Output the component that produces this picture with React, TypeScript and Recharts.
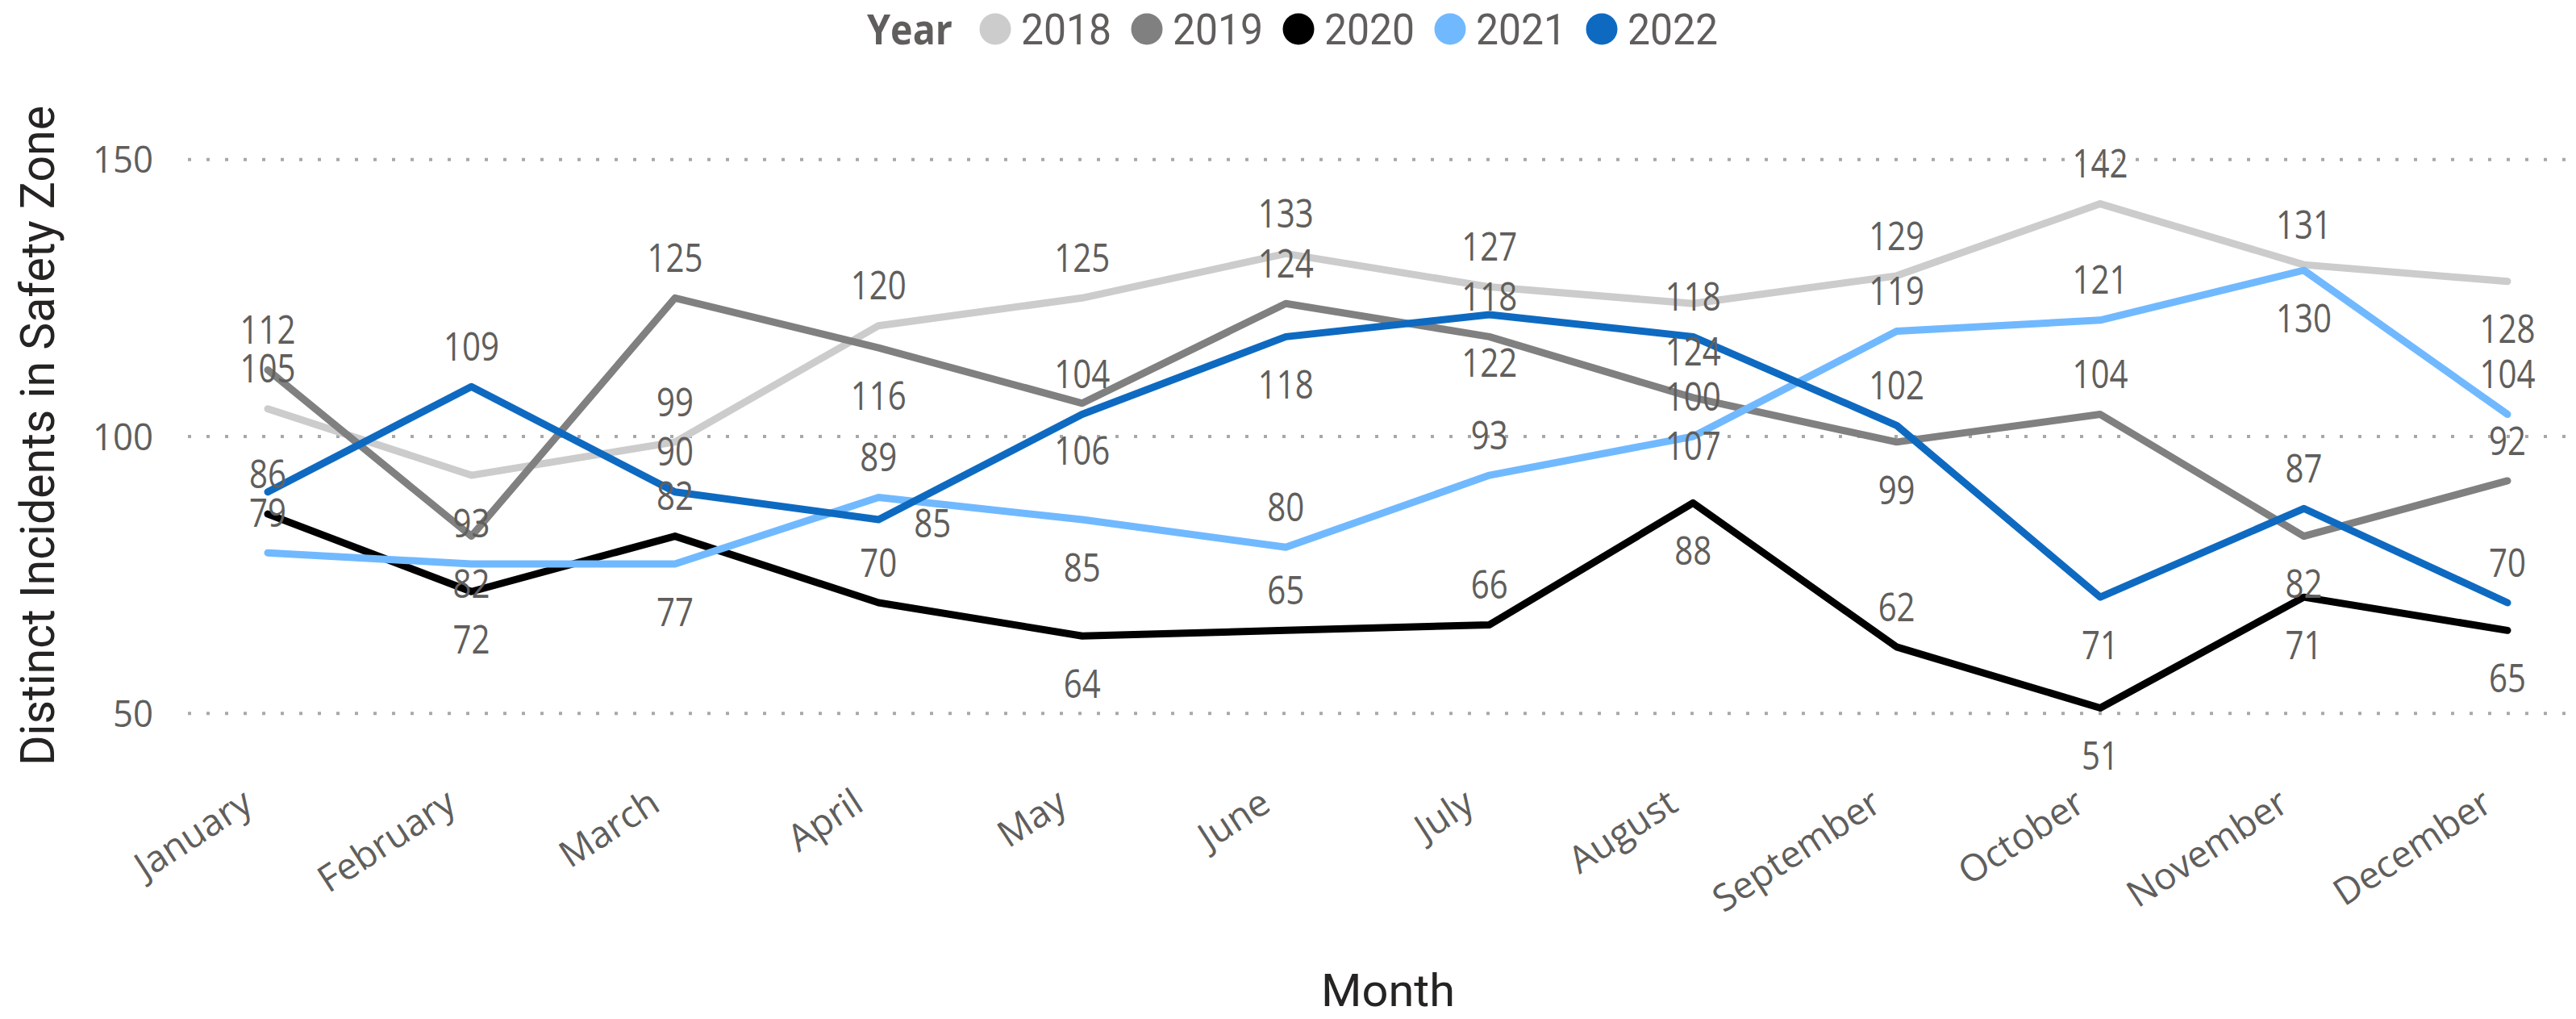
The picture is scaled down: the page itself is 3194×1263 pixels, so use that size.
import { CartesianGrid, LabelList, Line, LineChart, XAxis, YAxis } from 'recharts'

const months = [
  'January', 'February', 'March', 'April', 'May', 'June',
  'July', 'August', 'September', 'October', 'November', 'December',
]
const years = ['2018', '2019', '2020', '2021', '2022']

const v2018 = [105, 93, 99, 120, 125, 133, 127, 124, 129, 142, 131, 128]
const v2019 = [112, 82, 125, 116, 106, 124, 118, 107, 99, 104, 82, 92]
const v2020 = [86, 72, 82, 70, 64, 65, 66, 88, 62, 51, 71, 65]
const v2021 = [79, 77, 77, 89, 85, 80, 93, 100, 119, 121, 130, 104]
const v2022 = [90, 109, 90, 85, 104, 118, 122, 118, 102, 71, 87, 70]

const yTicks = [50, 100, 150]

const series: Record<string, number[]> = {
  '2018': v2018, '2019': v2019, '2020': v2020, '2021': v2021, '2022': v2022,
}

const colors: Record<string, string> = {
  '2018': '#CCCCCC',
  '2019': '#808080',
  '2020': '#000000',
  '2021': '#71B9FF',
  '2022': '#0E6AC1',
}

// where power bi put each data label: a = above, b = below, r = right, - = hidden
const labelSides: Record<string, string> = {
  '2018': 'abaaaaabaaab',
  '2019': 'ababbaabbaba',
  '2020': 'abaabaababbb',
  '2021': 'a-babaaaaaba',
  '2022': '-aarabbaabaa',
}

const rows = months.map((m, i) => {
  const row: Record<string, string | number> = { month: m }
  years.forEach((y) => (row[y] = series[y][i]))
  return row
})

const GREY = '#605E5C'
const DARK = '#252423'
const SEGOE = '"Open Sans", "Noto Sans", sans-serif'
const DIN = 'Roboto, "Noto Sans", sans-serif'

function MonthTick(props: any) {
  const { x, y, payload } = props
  const ax = x - 16
  const ay = y + 50
  return (
    <text
      x={ax}
      y={ay}
      transform={`rotate(-33, ${ax}, ${ay})`}
      textAnchor="end"
      fontFamily={SEGOE}
      fontSize={46}
      fill={GREY}
    >
      {payload.value}
    </text>
  )
}

function ValueTick(props: any) {
  const { x, y, payload } = props
  const s = String(payload.value)
  return (
    <text
      x={x}
      y={y}
      dy="0.36em"
      textAnchor="end"
      fontFamily={SEGOE}
      fontSize={46}
      fill={GREY}
      textLength={s.length * 25}
      lengthAdjust="spacingAndGlyphs"
    >
      {s}
    </text>
  )
}

function makeLabel(year: string) {
  return (props: any) => {
    const { x, y, value, index } = props
    const side = labelSides[year][index]
    if (side === '-' || x == null || y == null) return null
    let cx = x
    let cy = y - 50
    if (side === 'b') cy = y + 59
    if (side === 'r') {
      cx = x + 67
      cy = y + 4
    }
    const s = String(value)
    return (
      <text
        x={cx}
        y={cy}
        dy="0.36em"
        textAnchor="middle"
        fontFamily={SEGOE}
        fontSize={49}
        fill={GREY}
        textLength={s.length * 23}
        lengthAdjust="spacingAndGlyphs"
      >
        {s}
      </text>
    )
  }
}

function Legend() {
  let cx = 1075
  const items: JSX.Element[] = []
  items.push(
    <text key="title" x={cx} y={55} fontFamily={SEGOE} fontWeight={700} fontSize={52} fill={GREY}
      textLength={106} lengthAdjust="spacingAndGlyphs">
      Year
    </text>,
  )
  cx += 106 + 53
  years.forEach((y) => {
    items.push(<circle key={'c' + y} cx={cx} cy={36} r={19.5} fill={colors[y]} />)
    items.push(
      <text key={'t' + y} x={cx + 32} y={55} fontFamily={DIN} fontSize={53} fill={GREY}
        textLength={112} lengthAdjust="spacingAndGlyphs">
        {y}
      </text>,
    )
    cx += 32 + 112 + 44
  })
  return <g>{items}</g>
}

export default function App() {
  return (
    <div style={{ position: 'absolute', left: 0, top: 0, width: 3194, height: 1263, background: '#ffffff' }}>
      <LineChart
        width={3194}
        height={1263}
        data={rows}
        margin={{ top: 129, right: 7, bottom: 160, left: 0 }}
      >
        <CartesianGrid
          vertical={false}
          horizontalValues={yTicks}
          stroke="#A8A8A8"
          strokeWidth={4}
          strokeDasharray="4 19"
        />
        <XAxis
          dataKey="month"
          padding={{ left: 99, right: 78 }}
          axisLine={false}
          tickLine={false}
          tickSize={0}
          tickMargin={0}
          interval={0}
          height={150}
          tick={<MonthTick />}
        />
        <YAxis
          domain={[40, 160]}
          ticks={yTicks}
          axisLine={false}
          tickLine={false}
          tickSize={0}
          tickMargin={43}
          width={233}
          tick={<ValueTick />}
        />
        {years.map((y) => (
          <Line
            key={y}
            type="linear"
            dataKey={y}
            stroke={colors[y]}
            strokeWidth={9}
            strokeLinecap="round"
            strokeLinejoin="round"
            dot={false}
            activeDot={false}
            isAnimationActive={false}
          >
            <LabelList dataKey={y} content={makeLabel(y)} />
          </Line>
        ))}
      </LineChart>
      <svg
        width={3194}
        height={1263}
        style={{ position: 'absolute', left: 0, top: 0, pointerEvents: 'none' }}
      >
        <Legend />
        <text
          transform="translate(67, 540) rotate(-90)"
          textAnchor="middle"
          fontFamily={DIN}
          fontSize={59}
          fill={DARK}
          textLength={818}
          lengthAdjust="spacingAndGlyphs"
        >
          Distinct Incidents in Safety Zone
        </text>
        <text
          x={1721}
          y={1247}
          textAnchor="middle"
          fontFamily={DIN}
          fontSize={56}
          fill={DARK}
          textLength={166}
          lengthAdjust="spacingAndGlyphs"
        >
          Month
        </text>
      </svg>
    </div>
  )
}
